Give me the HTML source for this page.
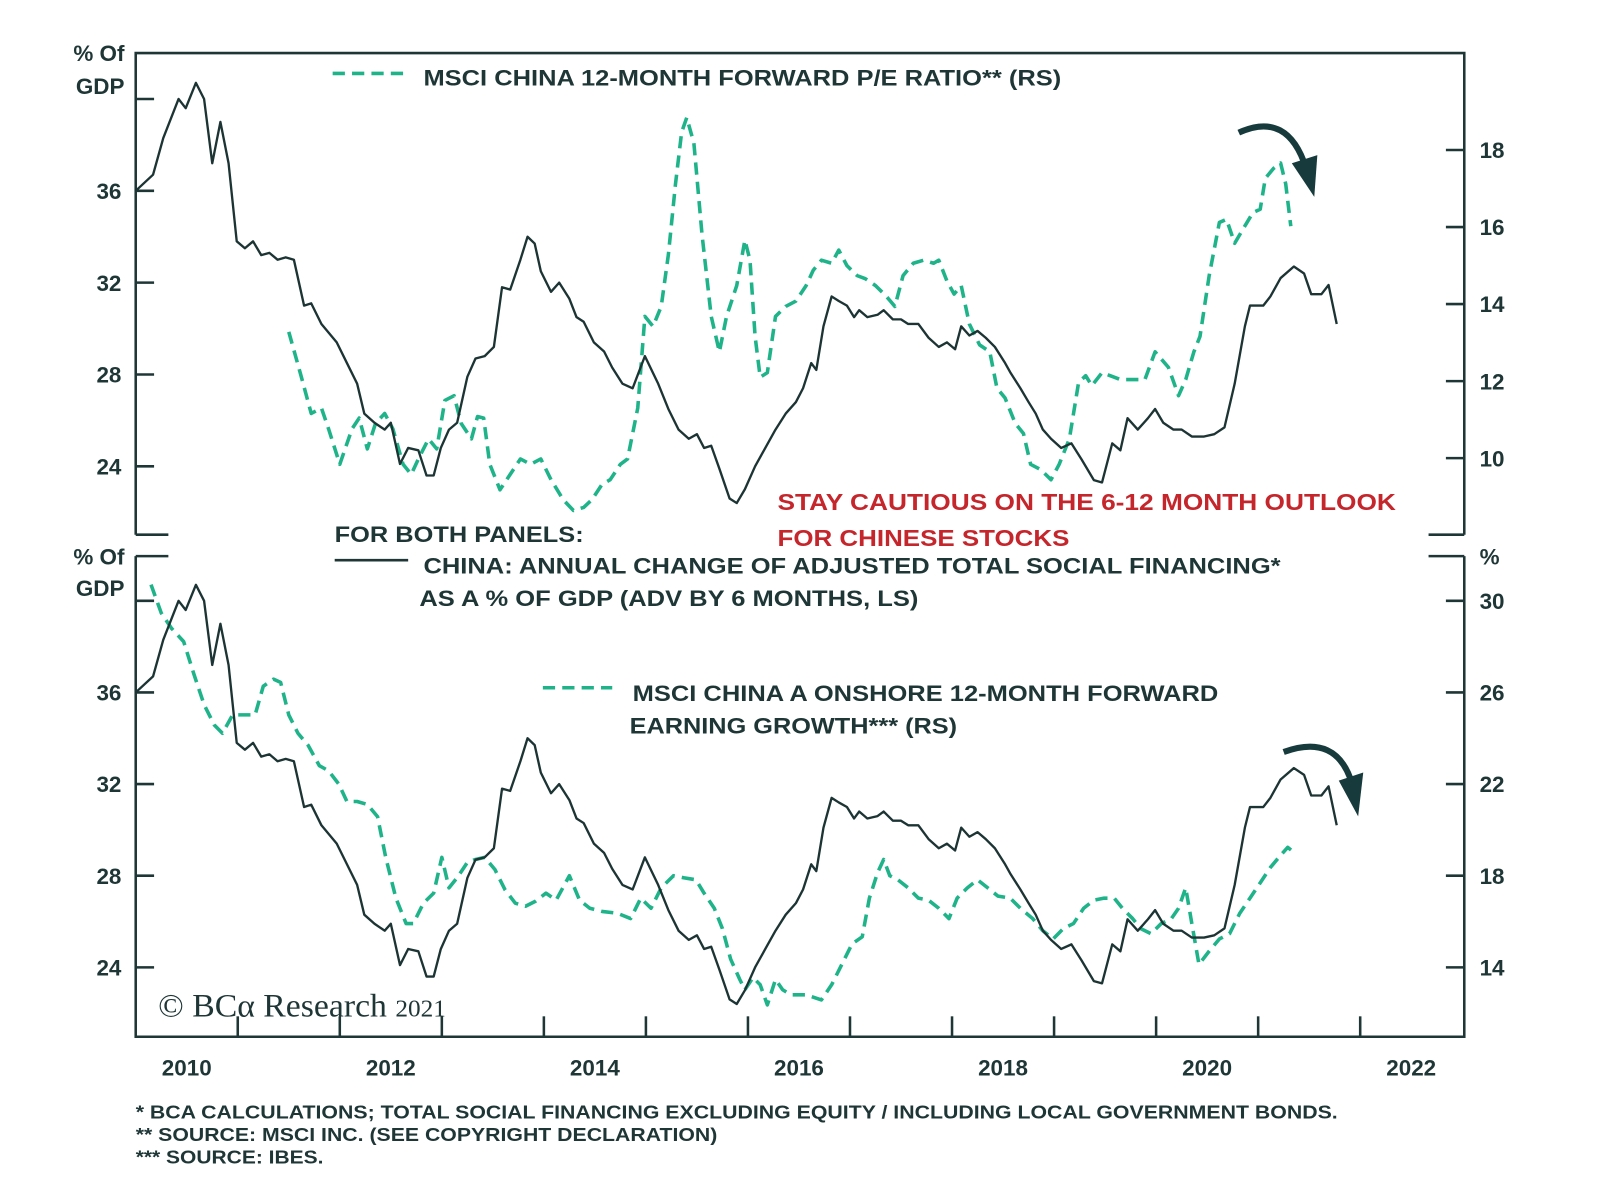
<!DOCTYPE html>
<html><head><meta charset="utf-8"><style>
html,body{margin:0;padding:0;background:#fff;}
svg{display:block;font-family:"Liberation Sans",sans-serif;}
.t{font-weight:bold;fill:#1f3636;font-size:22px;}
.f{font-weight:bold;fill:#1f3636;font-size:18px;}
.r{font-weight:bold;fill:#c5262c;font-size:23px;}
</style></head><body>
<svg id="chart" width="1600" height="1195" viewBox="0 0 1600 1195" xmlns="http://www.w3.org/2000/svg">
<g transform="scale(1.0204)">
<g id="frame" stroke="#1f3636" stroke-width="2.5" fill="none">
<path d="M133,524 V52 H1435 V524"/>
<path d="M133,524 H165 M1400,524 H1435"/>
<path d="M133,545 V1016 H1435 V545"/>
<path d="M133,545 H165 M1400,545 H1435"/>
</g>
<g id="axes"></g>
<g id="series"></g>
<text class="t" x="122" y="60" text-anchor="end">% Of</text>
<text class="t" x="122" y="92" text-anchor="end">GDP</text>
<text class="t" x="122" y="553" text-anchor="end">% Of</text>
<text class="t" x="122" y="584" text-anchor="end">GDP</text>
<text class="t" x="1450" y="553">%</text>
<line x1="326" y1="72" x2="396" y2="72" stroke="#1fb389" stroke-width="3.5" stroke-dasharray="12,7"/>
<text class="t" x="415" y="84" textLength="625" lengthAdjust="spacingAndGlyphs">MSCI CHINA 12-MONTH FORWARD P/E RATIO** (RS)</text>
<text class="t" x="328" y="531" textLength="244" lengthAdjust="spacingAndGlyphs">FOR BOTH PANELS:</text>
<line x1="328" y1="549" x2="400" y2="549" stroke="#1f3636" stroke-width="2.5"/>
<text class="t" x="415" y="562" textLength="840" lengthAdjust="spacingAndGlyphs">CHINA: ANNUAL CHANGE OF ADJUSTED TOTAL SOCIAL FINANCING*</text>
<text class="t" x="411" y="594" textLength="489" lengthAdjust="spacingAndGlyphs">AS A % OF GDP (ADV BY 6 MONTHS, LS)</text>
<text class="r" x="762" y="500" textLength="606" lengthAdjust="spacingAndGlyphs">STAY CAUTIOUS ON THE 6-12 MONTH OUTLOOK</text>
<text class="r" x="762" y="535" textLength="286" lengthAdjust="spacingAndGlyphs">FOR CHINESE STOCKS</text>
<line x1="532" y1="674" x2="600" y2="674" stroke="#1fb389" stroke-width="3.5" stroke-dasharray="12,7"/>
<text class="t" x="620" y="687" textLength="574" lengthAdjust="spacingAndGlyphs">MSCI CHINA A ONSHORE 12-MONTH FORWARD</text>
<text class="t" x="617" y="719" textLength="321" lengthAdjust="spacingAndGlyphs">EARNING GROWTH*** (RS)</text>
<text x="155" y="996" font-family="Liberation Serif,serif" font-size="32" fill="#1f3636" textLength="282" lengthAdjust="spacingAndGlyphs">© BCα Research <tspan font-size="24">2021</tspan></text>
<g><path d="M1214,130 Q1262,108 1280,165" stroke="#173a3c" stroke-width="6" fill="none"/><polygon points="1266,160 1291,152 1288,193" fill="#173a3c"/></g>
<g><path d="M1258,737 Q1310,718 1325,768" stroke="#173a3c" stroke-width="6" fill="none"/><polygon points="1312,765 1336,757 1331,800" fill="#173a3c"/></g>
<text class="f" x="133" y="1096" textLength="1178" lengthAdjust="spacingAndGlyphs">*   BCA CALCULATIONS; TOTAL SOCIAL FINANCING EXCLUDING EQUITY / INCLUDING LOCAL GOVERNMENT BONDS.</text>
<text class="f" x="133" y="1118" textLength="570" lengthAdjust="spacingAndGlyphs">**  SOURCE: MSCI INC. (SEE COPYRIGHT DECLARATION)</text>
<text class="f" x="133" y="1140" textLength="184" lengthAdjust="spacingAndGlyphs">*** SOURCE: IBES.</text>
</g>
</svg>
<script>
const tsfDates=[2010.00,2010.17,2010.27,2010.42,2010.49,2010.59,2010.67,2010.75,2010.83,2010.91,2010.99,2011.07,2011.15,2011.23,2011.31,2011.39,2011.47,2011.55,2011.65,2011.72,2011.82,2011.97,2012.07,2012.17,2012.24,2012.34,2012.44,2012.50,2012.59,2012.67,2012.77,2012.85,2012.92,2012.99,2013.07,2013.15,2013.25,2013.33,2013.42,2013.51,2013.59,2013.67,2013.77,2013.84,2013.91,2013.97,2014.07,2014.15,2014.25,2014.32,2014.39,2014.49,2014.59,2014.67,2014.77,2014.87,2014.99,2015.12,2015.22,2015.32,2015.42,2015.50,2015.57,2015.64,2015.72,2015.82,2015.89,2015.97,2016.07,2016.17,2016.27,2016.37,2016.47,2016.54,2016.62,2016.67,2016.74,2016.82,2016.89,2016.97,2017.04,2017.09,2017.17,2017.27,2017.33,2017.42,2017.50,2017.57,2017.67,2017.77,2017.87,2017.95,2018.03,2018.09,2018.17,2018.25,2018.33,2018.42,2018.52,2018.57,2018.67,2018.75,2018.82,2018.89,2018.97,2019.07,2019.17,2019.27,2019.39,2019.47,2019.57,2019.65,2019.72,2019.82,2019.92,2019.99,2020.07,2020.17,2020.25,2020.35,2020.47,2020.57,2020.67,2020.77,2020.87,2020.92,2021.05,2021.12,2021.22,2021.35,2021.45,2021.52,2021.62,2021.69,2021.77];
const tsfValues=[36.0,36.7,38.3,40.0,39.6,40.7,40.0,37.2,39.0,37.2,33.8,33.5,33.8,33.2,33.3,33.0,33.1,33.0,31.0,31.1,30.2,29.4,28.5,27.6,26.3,25.9,25.6,25.9,24.1,24.8,24.7,23.6,23.6,24.8,25.6,25.9,27.9,28.7,28.8,29.2,31.8,31.7,33.0,34.0,33.7,32.5,31.6,32.0,31.3,30.5,30.3,29.4,29.0,28.3,27.6,27.4,28.8,27.6,26.5,25.6,25.2,25.4,24.8,24.9,23.9,22.6,22.4,23.0,24.0,24.8,25.6,26.3,26.8,27.4,28.5,28.2,30.1,31.4,31.2,31.0,30.5,30.8,30.5,30.6,30.8,30.4,30.4,30.2,30.2,29.6,29.2,29.4,29.1,30.1,29.7,29.9,29.6,29.2,28.5,28.1,27.4,26.8,26.3,25.6,25.2,24.8,25.0,24.3,23.4,23.3,25.0,24.7,26.1,25.6,26.1,26.5,25.9,25.6,25.6,25.3,25.3,25.4,25.7,27.6,30.1,31.0,31.0,31.4,32.2,32.7,32.4,31.5,31.5,31.9,30.2];
const peDates=[2011.50,2011.62,2011.72,2011.82,2011.89,2012.00,2012.12,2012.19,2012.27,2012.35,2012.44,2012.52,2012.62,2012.70,2012.77,2012.87,2012.95,2013.03,2013.12,2013.19,2013.29,2013.35,2013.41,2013.47,2013.57,2013.67,2013.77,2013.87,2013.97,2014.07,2014.19,2014.29,2014.39,2014.47,2014.57,2014.65,2014.75,2014.82,2014.92,2014.99,2015.07,2015.15,2015.22,2015.29,2015.35,2015.40,2015.47,2015.55,2015.64,2015.72,2015.79,2015.89,2015.97,2016.02,2016.07,2016.12,2016.19,2016.27,2016.37,2016.47,2016.57,2016.64,2016.72,2016.82,2016.89,2016.97,2017.07,2017.15,2017.25,2017.35,2017.44,2017.52,2017.62,2017.72,2017.82,2017.87,2017.95,2018.02,2018.09,2018.17,2018.27,2018.37,2018.44,2018.52,2018.62,2018.70,2018.77,2018.87,2018.97,2019.05,2019.15,2019.24,2019.31,2019.37,2019.47,2019.55,2019.65,2019.75,2019.89,2019.99,2020.12,2020.22,2020.29,2020.37,2020.43,2020.52,2020.62,2020.69,2020.77,2020.85,2020.95,2021.02,2021.07,2021.15,2021.22,2021.27,2021.32];
const peValues=[13.28,12.14,11.16,11.30,10.76,9.84,10.76,11.04,10.24,10.90,11.16,10.76,9.84,9.58,9.98,10.50,10.24,11.50,11.62,10.90,10.50,11.08,11.04,9.84,9.18,9.58,9.98,9.84,9.98,9.44,8.92,8.64,8.72,8.92,9.32,9.44,9.84,9.98,11.30,13.68,13.42,13.94,15.28,17.12,18.46,18.84,18.18,15.80,13.68,12.76,13.68,14.48,15.66,15.14,13.16,12.10,12.22,13.68,13.94,14.08,14.48,14.88,15.14,15.06,15.40,15.00,14.74,14.66,14.48,14.22,13.94,14.74,15.06,15.14,15.06,15.14,14.60,14.26,14.48,13.48,12.94,12.76,11.82,11.56,10.90,10.64,9.84,9.70,9.44,9.84,10.50,11.96,12.14,11.88,12.22,12.14,12.04,12.04,12.04,12.76,12.36,11.62,12.04,12.76,13.16,14.74,16.12,16.20,15.58,15.94,16.38,16.46,17.26,17.52,17.66,17.12,16.02];
const epsDates=[2010.15,2010.25,2010.35,2010.47,2010.57,2010.67,2010.77,2010.85,2010.95,2011.07,2011.17,2011.25,2011.35,2011.42,2011.50,2011.59,2011.69,2011.80,2011.89,2011.99,2012.07,2012.17,2012.27,2012.37,2012.45,2012.55,2012.65,2012.72,2012.82,2012.92,2013.00,2013.07,2013.15,2013.25,2013.33,2013.42,2013.52,2013.62,2013.72,2013.82,2013.92,2014.02,2014.12,2014.25,2014.35,2014.45,2014.57,2014.72,2014.85,2014.95,2015.05,2015.15,2015.27,2015.37,2015.49,2015.57,2015.67,2015.75,2015.83,2015.92,2015.97,2016.05,2016.12,2016.19,2016.27,2016.34,2016.42,2016.57,2016.72,2016.82,2016.92,2017.02,2017.12,2017.19,2017.27,2017.33,2017.39,2017.47,2017.57,2017.67,2017.77,2017.87,2017.97,2018.05,2018.15,2018.25,2018.35,2018.45,2018.57,2018.67,2018.79,2018.89,2018.99,2019.09,2019.19,2019.29,2019.39,2019.49,2019.59,2019.67,2019.77,2019.85,2019.95,2020.05,2020.15,2020.22,2020.29,2020.35,2020.42,2020.52,2020.62,2020.72,2020.82,2020.92,2021.02,2021.12,2021.22,2021.29,2021.35];
const epsValues=[30.71,29.47,28.80,28.22,26.80,25.47,24.58,24.22,25.02,25.02,25.02,26.27,26.58,26.44,25.02,24.22,23.69,22.80,22.58,22.00,21.24,21.24,21.11,20.58,18.80,17.02,15.91,15.91,16.80,17.24,18.80,17.47,17.91,18.58,18.71,18.80,18.27,17.38,16.80,16.67,16.89,17.24,16.93,18.00,16.93,16.58,16.44,16.36,16.13,17.02,16.58,17.47,18.00,17.91,17.82,17.24,16.58,15.69,14.36,13.47,13.02,13.56,13.24,12.36,13.47,13.02,12.80,12.80,12.58,13.24,14.13,15.02,15.33,17.02,18.13,18.71,18.00,17.82,17.47,17.02,16.93,16.58,16.13,17.02,17.47,17.82,17.47,17.11,17.02,16.58,16.13,15.60,15.24,15.69,15.91,16.58,16.93,17.02,17.02,16.58,16.13,15.69,15.47,15.91,16.13,16.58,17.47,15.91,14.13,14.71,15.24,15.47,16.36,17.02,17.69,18.36,18.89,19.24,19.02];
const yearLabels=["2010","2012","2014","2016","2018","2020","2022"];
const topLeftTicks=[24,28,32,36,40];
const topLeftLabels=["24","28","32","36",""];
const topRightTicks=[10,12,14,16,18];
const botLeftTicks=[24,28,32,36,40];
const botLeftLabels=["24","28","32","36",""];
const botRightTicks=[14,18,22,26,30];

const NS="http://www.w3.org/2000/svg";
const X=t=>133+(t-2010)*100;
const yTopL=v=>457-(v-24)*22.5;
const yTopR=v=>449-(v-10)*37.75;
const yBotL=v=>948-(v-24)*22.45;
const yBotR=v=>948-(v-14)*22.45;
const axes=document.getElementById('axes');
const series=document.getElementById('series');
function mk(tag,attrs,parent){const e=document.createElementNS(NS,tag);for(const k in attrs)e.setAttribute(k,attrs[k]);parent.appendChild(e);return e;}

function leftTicks(ticks,labels,fy,name){
  ticks.forEach((v,i)=>{
    const l=mk('line',{x1:133,x2:151,y1:fy(v),y2:fy(v),stroke:'#1f3636','stroke-width':2.5},axes);
    
    
    if(labels[i]){const t=mk('text',{x:119,y:fy(v)+8,'text-anchor':'end',class:'t'},axes);t.textContent=labels[i];
    
    }
  });
}
function rightTicks(ticks,fy,name){
  ticks.forEach(v=>{
    const l=mk('line',{x1:1417,x2:1435,y1:fy(v),y2:fy(v),stroke:'#1f3636','stroke-width':2.5},axes);
    
    
    const t=mk('text',{x:1450,y:fy(v)+8,class:'t'},axes);t.textContent=String(v);
    
    
  });
}
leftTicks(topLeftTicks,topLeftLabels,yTopL,'top-left-axis');
rightTicks(topRightTicks,yTopR,'top-right-axis');
leftTicks(botLeftTicks,botLeftLabels,yBotL,'bottom-left-axis');
rightTicks(botRightTicks,yBotR,'bottom-right-axis');
for(let yr=2011;yr<=2022;yr++){
  const l=mk('line',{x1:X(yr),x2:X(yr),y1:996,y2:1016,stroke:'#1f3636','stroke-width':2.5},axes);
  
  
}
yearLabels.forEach(s=>{
  const t=mk('text',{x:X(+s+0.5),y:1054,'text-anchor':'middle',class:'t'},axes);t.textContent=s;
  
  
});
function line(dates,vals,fy,dashed,name){
  const d=dates.map((t,i)=>(i?'L':'M')+X(t).toFixed(1)+','+fy(vals[i]).toFixed(1)).join(' ');
  const p=mk('path',{d:d,fill:'none',stroke:dashed?'#1fb389':'#1d3434','stroke-width':dashed?3.5:2.3,'stroke-linejoin':'round'},series);
  if(dashed)p.setAttribute('stroke-dasharray','12,7');
  
  
}
line(peDates,peValues,yTopR,true,'pe-ratio-line');
line(tsfDates,tsfValues,yTopL,false,'tsf-line-top');
line(epsDates,epsValues,yBotR,true,'earnings-growth-line');
line(tsfDates,tsfValues,yBotL,false,'tsf-line-bottom');
</script>
</body></html>
